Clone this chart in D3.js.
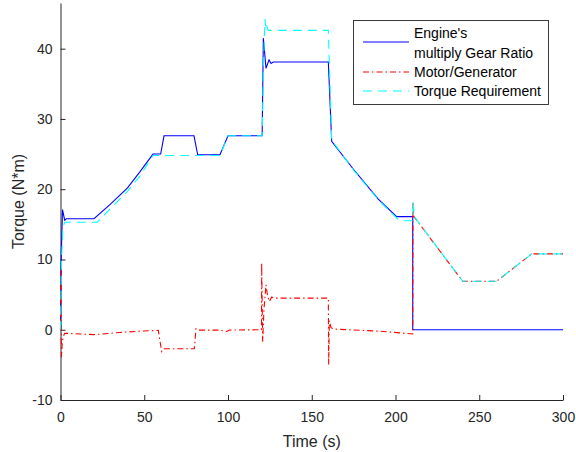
<!DOCTYPE html>
<html>
<head>
<meta charset="utf-8">
<script src="https://cdn.jsdelivr.net/npm/d3@7"></script>
<style>
    body { margin: 0; background: #fff; }
    svg { display: block; font-family: "Liberation Sans", Arial, Helvetica, sans-serif; }
    .axis path, .axis line { stroke: #262626; }
    .axis text { fill: #262626; font-size: 14px; }
    .series { fill: none; stroke-width: 1.1; }
</style>
</head>
<body>
<svg id="chart" width="576" height="452"></svg>
<script>
// Engine torque times gear ratio (blue, solid)
const engineTime = [0, 0.4, 1.2, 2.5, 3.5, 20, 30, 40, 47.5, 55.2, 59.8, 61.8, 79.7, 81.9, 95.2, 100,
    120.4, 121.1, 122.7, 124.5, 125.7, 127, 159.9, 161.9, 175, 189.7, 200.7, 210.3, 210.3, 300];
const engineTorque = [0, 10, 17.1, 15.6, 15.8, 15.8, 17.9, 20.2, 22.5, 25.0, 25.0, 27.6, 27.6, 24.9, 24.9, 27.6,
    27.6, 41.5, 37.2, 38.4, 37.9, 38.1, 38.1, 26.8, 22.8, 18.6, 16.1, 16.1, 0, 0];

// Motor/Generator torque (red, dash-dot)
const motorTime = [0, 0.1, 0.6, 1.0, 1.6, 2.5, 20, 35, 47.5, 58.4, 60.4, 61.5, 79.9, 80.9, 82, 95, 99.2, 101,
    120, 120.1, 120.7, 121.5, 122.7, 123.5, 124.7, 126.1, 127.5, 159.9, 160.1, 160.5, 161.5, 163, 190,
    210.3, 210.4, 211, 240.1, 260.4, 281.3, 300];
const motorTorque = [0, 9, -3.9, -2, -1, -0.5, -0.7, -0.4, -0.2, -0.1, -3.1, -2.7, -2.7, 0.15, -0.05, -0.05, -0.25, -0.05,
    0, 9.5, -1.7, 3, 6.4, 5.0, 4.0, 4.65, 4.5, 4.5, -5.0, 1.3, 0.3, 0.1, -0.2,
    -0.6, 18.0, 16.1, 6.9, 6.9, 10.8, 10.8];

// Torque requirement (cyan, dashed)
const reqTime = [0, 0.6, 1.5, 2.5, 22, 30, 40, 47.5, 55.2, 82, 95.2, 100, 120.4, 121.2, 122.1, 122.6, 123.2, 124,
    159.9, 161.9, 175, 189.7, 200.7, 202.7, 210.3, 210.6, 211.2, 240.1, 260.4, 281.3, 300];
const reqTorque = [0, 10, 14.6, 15.3, 15.3, 17.3, 19.7, 21.9, 24.8, 24.8, 24.8, 27.6, 27.6, 38, 44.2, 42.7, 43.2, 42.6,
    42.6, 27.0, 22.7, 18.5, 15.9, 15.5, 15.5, 18.3, 16.1, 6.9, 6.9, 10.8, 10.8];

const xTicks = [0, 50, 100, 150, 200, 250, 300];
const yTicks = [-10, 0, 10, 20, 30, 40];

const legendLabels = [["Engine's", "multiply Gear Ratio"], ["Motor/Generator"], ["Torque Requirement"]];

const svg = d3.select('#chart');
const plot = { left: 60.5, right: 563, top: 3, bottom: 400 };

const x = d3.scaleLinear().domain([0, 300]).range([plot.left, plot.right]);
const y = d3.scaleLinear().domain([-10, 46.5]).range([plot.bottom, plot.top]);

// Axes (ticks point inward, no box); plain hyphen for negatives like the original
svg.append('g')
    .attr('class', 'axis')
    .attr('transform', `translate(0,${plot.bottom})`)
    .call(d3.axisBottom(x).tickValues(xTicks).tickFormat(d => String(d))
        .tickSize(-5).tickSizeOuter(0).tickPadding(10))
    .call(g => g.selectAll('text').attr('dy', '0.85em'));

svg.append('g')
    .attr('class', 'axis')
    .attr('transform', `translate(${plot.left},0)`)
    .call(d3.axisLeft(y).tickValues(yTicks).tickFormat(d => String(d))
        .tickSize(-5).tickSizeOuter(0).tickPadding(8));

svg.append('text')
    .attr('x', (plot.left + plot.right) / 2)
    .attr('y', 447)
    .attr('text-anchor', 'middle')
    .attr('fill', '#262626')
    .style('font-size', '16px')
    .text('Time (s)');

svg.append('text')
    .attr('transform', `translate(24,${(plot.top + plot.bottom) / 2}) rotate(-90)`)
    .attr('text-anchor', 'middle')
    .attr('fill', '#262626')
    .style('font-size', '16px')
    .text('Torque (N*m)');

// Series
const line = d3.line().x(d => x(d[0])).y(d => y(d[1]));
const series = [
    { time: engineTime, values: engineTorque, color: '#0000ff', dash: null },
    { time: motorTime, values: motorTorque, color: '#ff0000', dash: '6,3,1.5,3' },
    { time: reqTime, values: reqTorque, color: '#00ffff', dash: '9,6' }
];

series.forEach(s => {
    svg.append('path')
        .datum(d3.zip(s.time, s.values))
        .attr('class', 'series')
        .attr('stroke', s.color)
        .attr('stroke-dasharray', s.dash)
        .attr('d', line);
});

// Legend
const legend = svg.append('g');
legend.append('rect')
    .attr('x', 353.5).attr('y', 20.5)
    .attr('width', 195).attr('height', 84)
    .attr('fill', '#fff')
    .attr('stroke', '#262626')
    .attr('stroke-width', 0.9);

const rowY = [[33, 53], [72], [91]];
const sampleY = [42, 72, 91];

series.forEach((s, i) => {
    legend.append('line')
        .attr('x1', 363).attr('x2', 409)
        .attr('y1', sampleY[i]).attr('y2', sampleY[i])
        .attr('stroke', s.color)
        .attr('stroke-width', 1.1)
        .attr('stroke-dasharray', s.dash);
    legendLabels[i].forEach((txt, j) => {
        legend.append('text')
            .attr('x', 414)
            .attr('y', rowY[i][j])
            .attr('dy', '0.35em')
            .attr('fill', '#000')
            .style('font-size', '14px')
            .text(txt);
    });
});
</script>
</body>
</html>
